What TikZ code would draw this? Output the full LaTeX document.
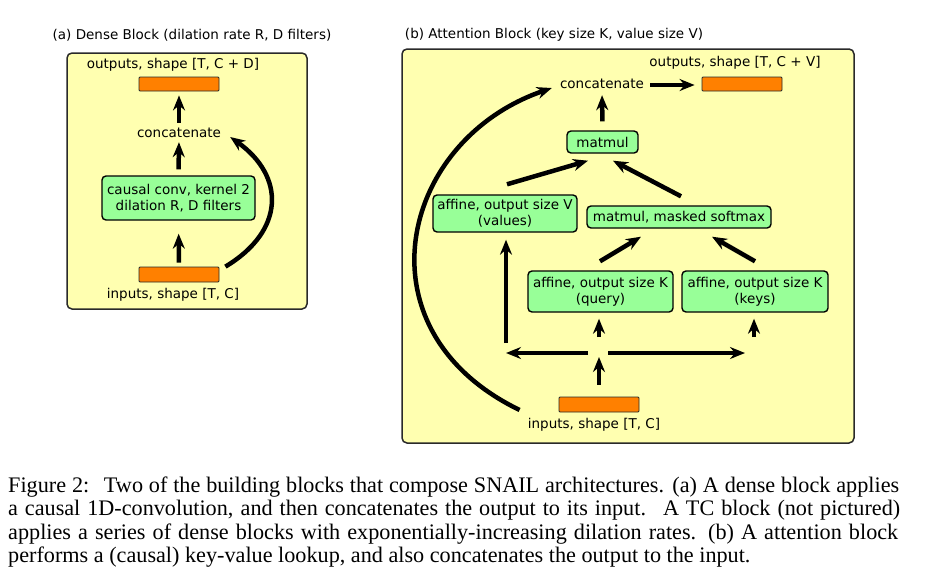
\documentclass[tikz,border=0pt]{standalone}
\usepackage{fontspec}
\setmainfont{DejaVu Sans}
\newfontfamily\capfont{Liberation Serif}
\usetikzlibrary{arrows.meta}
\definecolor{panelyellow}{HTML}{FFFFB0}
\definecolor{boxgreen}{HTML}{98FF98}
\definecolor{tensororange}{HTML}{FF8000}
\definecolor{frameedge}{HTML}{2A2A2A}
\begin{document}
\begin{tikzpicture}[x=1pt,y=-1pt,
  lbl/.style={font=\fontsize{13.5}{15}\selectfont, inner sep=0pt, text height=10pt, text depth=3pt},
  panel/.style={draw=frameedge, fill=panelyellow, line width=1.5pt, rounded corners=5pt},
  opbox/.style={draw=black, fill=boxgreen, line width=1.4pt, rounded corners=4pt, inner sep=0pt, align=center,
     font=\fontsize{13.5}{16}\selectfont},
  tensor/.style={draw=frameedge, fill=tensororange, line width=0.8pt, rounded corners=1pt, inner sep=0pt, minimum width=80pt},
  arr/.style={line width=4.5pt, -{Stealth[length=15pt,width=12pt,inset=5pt]}},
  capline/.style={anchor=base west, inner sep=0pt, font=\capfont\fontsize{22.2}{23}\selectfont}
]
\useasboundingbox (0,0) rectangle (941,582);

% ---------- (a) Dense block ----------
\node[lbl] (titleA) at (192,36) {(a) Dense Block (dilation rate R, D filters)};
\draw[panel] (67,53) rectangle (307,309);
\node[lbl] (outA) at (173,65) {outputs, shape [T, C + D]};
\node[tensor, minimum height=14pt] (outrectA) at (179,84) {};
\node[lbl] (concA) at (179,134) {concatenate};
\node[opbox, minimum width=153pt, minimum height=44pt] (convA) at (178.5,198) {causal conv, kernel 2\\dilation R, D filters};
\node[tensor, minimum height=15pt] (inrectA) at (179,274.5) {};
\node[lbl] (inA) at (173,295) {inputs, shape [T, C]};

\draw[arr, shorten <=4.5pt, shorten >=4pt] (concA.north) -- (outrectA.south);
\draw[arr, shorten <=6pt, shorten >=1.5pt] (convA.north) -- (concA.south);
\draw[arr, shorten <=4pt, shorten >=13pt] (inrectA.north) -- (convA.south);
\draw[arr] ([xshift=6pt]inrectA.north east) .. controls +(60,-36) and +(55,39) .. ([xshift=9pt,yshift=-3pt]concA.east);

% ---------- (b) Attention block ----------
\node[lbl] (titleB) at (554,35) {(b) Attention Block (key size K, value size V)};
\draw[panel] (402,49) rectangle (854,443);
\node[lbl] (outB) at (735,63) {outputs, shape [T, C + V]};
\node[tensor, minimum height=14pt] (outrectB) at (742,84) {};
\node[lbl] (concB) at (602,85) {concatenate};
\node[opbox, minimum width=71pt, minimum height=22pt] (matmulB) at (602.5,142) {matmul};
\node[opbox, minimum width=144pt, minimum height=37pt] (valuesB) at (505,213.5) {affine, output size V\\(values)};
\node[opbox, minimum width=184pt, minimum height=22pt] (softmaxB) at (679,217) {matmul, masked softmax};
\node[opbox, minimum width=145pt, minimum height=41pt] (queryB) at (600.5,291.5) {affine, output size K\\(query)};
\node[opbox, minimum width=146pt, minimum height=41pt] (keysB) at (755,291.5) {affine, output size K\\(keys)};
\node[tensor, minimum height=15pt] (inrectB) at (599,404.5) {};
\node[lbl] (inB) at (594,425) {inputs, shape [T, C]};
\coordinate (split) at (599,353);
\coordinate (valcorner) at (506,353);
\coordinate (keycorner) at (754,353);

\draw[arr, shorten <=6pt, shorten >=7pt] (concB.east) -- (concB.east -| outrectB.west);
\draw[arr, shorten <=9pt, shorten >=3.5pt] (matmulB.north) -- (concB.south);
\draw[arr] ([xshift=2pt,yshift=10pt]valuesB.north) -- ([xshift=-14.5pt,yshift=-7pt]matmulB.south);
\draw[arr] ([xshift=2pt,yshift=9pt]softmaxB.north) -- ([xshift=10.5pt,yshift=-7pt]matmulB.south);
\draw[arr] ([xshift=-0.5pt,yshift=9pt]queryB.north) -- ([xshift=-38pt,yshift=-8pt]softmaxB.south);
\draw[arr] ([yshift=9pt]keysB.north) -- ([xshift=33pt,yshift=-8pt]softmaxB.south);
\draw[arr, shorten <=12pt, shorten >=4pt] (inrectB.north) -- (split);
\draw[arr, shorten <=16pt, shorten >=6pt] (split) -- (split |- queryB.south);
\draw[arr, shorten <=11pt] (split) -- (valcorner);
\draw[arr, shorten <=10pt, shorten >=7pt] (valcorner) -- (valuesB.south -| valcorner);
\draw[arr, shorten <=9pt, shorten >=9pt] (split) -- (keycorner);
\draw[arr, shorten <=16pt, shorten >=6pt] (keycorner) -- (keysB.south -| keycorner);
\draw[arr] ([xshift=-39pt,yshift=-5.5pt]inrectB.west) .. controls +(-165,-80) and +(-152,52) .. ([xshift=-8pt,yshift=-3pt]concB.west);

% ---------- caption ----------
\node[capline] (cap1) at (8,492.7) {\makebox[891pt][s]{Figure 2:\hspace{0.3em} Two of the building blocks that compose SNAIL architectures. (a) A dense block applies}};
\node[capline] (cap2) at (8,515.9) {\makebox[892pt][s]{a causal 1D-convolution, and then concatenates the output to its input.\hspace{0.25em} A TC block (not pictured)}};
\node[capline] (cap3) at (8,539.1) {\makebox[890pt][s]{applies a series of dense blocks with exponentially-increasing dilation rates. (b) A attention block}};
\node[capline] (cap4) at (8,562.3) {performs a (causal) key-value lookup, and also concatenates the output to the input.};
\end{tikzpicture}
\end{document}
